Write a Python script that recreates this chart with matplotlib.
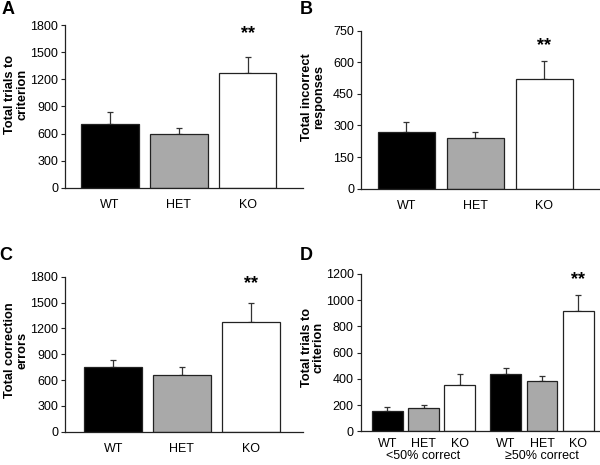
import matplotlib
matplotlib.use("Agg")
import matplotlib.pyplot as plt
import numpy as np

plt.rcParams['font.family'] = ['Liberation Sans', 'DejaVu Sans']

genotypes = ["WT", "HET", "KO"]
colors = ["#000000", "#a9a9a9", "#ffffff"]

# Panel A: total trials to criterion
a_vals = [710, 600, 1270]
a_err = [125, 60, 180]
# Panel B: total incorrect responses
b_vals = [270, 242, 521]
b_err = [48, 25, 84]
# Panel C: total correction errors
c_vals = [750, 662, 1277]
c_err = [82, 88, 214]
# Panel D: total trials to criterion by phase
d_groups = ["<50% correct", "\u226550% correct"]
d_low_vals = [152, 180, 353]
d_low_err = [36, 23, 82]
d_high_vals = [440, 384, 915]
d_high_err = [41, 40, 125]

fig = plt.figure(figsize=(6, 4.65), dpi=100)

def style(ax, ylim, yticks):
    ax.set_ylim(*ylim)
    ax.set_yticks(yticks)
    for s in ["top", "right"]:
        ax.spines[s].set_visible(False)
    for s in ["left", "bottom"]:
        ax.spines[s].set_linewidth(0.9)
        ax.spines[s].set_color("#222222")
    ax.tick_params(axis="y", direction="out", length=3, width=0.8, labelsize=9, pad=2, color="#222222")
    ax.tick_params(axis="x", length=0, labelsize=9, pad=8)

def ylab(ax, text, x, y):
    ax.set_ylabel(text, fontsize=9.2, fontweight="bold", linespacing=1.05)
    ax.yaxis.set_label_coords(x, y)

def bars(ax, x, vals, errs, width):
    ax.bar(x, vals, width=width, color=colors * (len(vals) // 3),
           edgecolor="#222222", linewidth=0.9, zorder=2)
    ax.errorbar(x, vals, yerr=[np.zeros(len(errs)), errs], fmt="none", ecolor="#333333",
                elinewidth=0.9, capsize=2, capthick=0.9, zorder=1)

# Panel A
axA = fig.add_axes([65/600, 1-188/465, (303-65)/600, (188-25)/465])
x3 = np.arange(3)
bars(axA, x3, a_vals, a_err, 0.83)
axA.set_xlim(-0.652, 2.80)
style(axA, (0, 1800), np.arange(0, 1801, 300))
axA.set_xticks(x3)
axA.set_xticklabels(genotypes)
ylab(axA, "Total trials to\ncriterion", -0.155, 0.575)
axA.text(2, 1460 + 150, "**", ha="center", va="bottom", fontsize=13, fontweight="bold")

# Panel B
axB = fig.add_axes([361/600, 1-188.7/465, (599-361)/600, (188.7-30.7)/465])
bars(axB, x3, b_vals, b_err, 0.82)
axB.set_xlim(-0.657, 2.794)
style(axB, (0, 750), np.arange(0, 751, 150))
axB.set_xticks(x3)
axB.set_xticklabels(genotypes)
ylab(axB, "Total incorrect\nresponses", -0.15, 0.58)
axB.text(2, 605 + 35, "**", ha="center", va="bottom", fontsize=13, fontweight="bold")

# Panel C
axC = fig.add_axes([65/600, 1-431.7/465, (303-65)/600, (431.7-276.7)/465])
bars(axC, x3, c_vals, c_err, 0.84)
axC.set_xlim(-0.70, 2.76)
style(axC, (0, 1800), np.arange(0, 1801, 300))
axC.set_xticks(x3)
axC.set_xticklabels(genotypes)
ylab(axC, "Total correction\nerrors", -0.155, 0.527)
axC.text(2, 1491 + 130, "**", ha="center", va="bottom", fontsize=13, fontweight="bold")

# Panel D
axD = fig.add_axes([360.7/600, 1-431.3/465, (599-360.7)/600, (431.3-274)/465])
xd = np.array([0, 1, 2, 3.26, 4.26, 5.26])
d_vals = d_low_vals + d_high_vals
d_err = d_low_err + d_high_err
axD.bar(xd, d_vals, width=0.85, color=colors * 2, edgecolor="#222222", linewidth=0.9, zorder=2)
axD.errorbar(xd, d_vals, yerr=[np.zeros(6), d_err], fmt="none", ecolor="#333333",
             elinewidth=0.9, capsize=2, capthick=0.9, zorder=1)
axD.set_xlim(-0.73, 5.83)
style(axD, (0, 1200), np.arange(0, 1201, 200))
axD.set_xticks(xd)
axD.set_xticklabels(genotypes * 2)
axD.tick_params(axis="x", pad=5)
ylab(axD, "Total trials to\ncriterion", -0.15, 0.536)
axD.text(5.26, 1040 + 50, "**", ha="center", va="bottom", fontsize=13, fontweight="bold")
for gx, lab in zip([1, 4.26], d_groups):
    fig.text(axD.transData.transform((gx, 0))[0] / 600, 1 - 456/465, lab,
             ha="center", va="center", fontsize=9)

# Panel letters
for lx, ly, letter in [(8, 10, "A"), (306, 10, "B"), (6, 255, "C"), (306, 255, "D")]:
    fig.text(lx/600, 1-ly/465, letter, ha="center", va="center", fontsize=13, fontweight="bold")

fig.savefig("out.png", dpi=100)
